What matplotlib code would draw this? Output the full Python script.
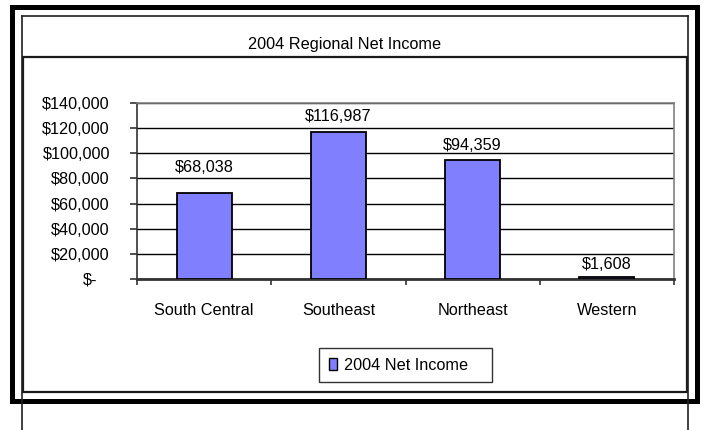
import numpy as np
import matplotlib
matplotlib.use("Agg")
import matplotlib.pyplot as plt
from matplotlib.patches import Rectangle, Patch
from matplotlib.lines import Line2D
from matplotlib.transforms import ScaledTranslation

plt.rcParams['font.family'] = ['Liberation Sans', 'DejaVu Sans']

# data
regions = ['South Central', 'Southeast', 'Northeast', 'Western']
net_income = [68038, 116987, 94359, 1608]
series_name = '2004 Net Income'
chart_title = '2004 Regional Net Income'
y_ticks = [0, 20000, 40000, 60000, 80000, 100000, 120000, 140000]

# label gap above each bar (pixels), Excel placed them unevenly
label_gap = [18, 8, 7, 5]

W, H = 704, 430
DPI = 100
bar_color = '#8080FF'
fs = 11.7


def fx(x):
    return x / W


def fy(y):
    return 1 - y / H


fig = plt.figure(figsize=(W / DPI, H / DPI), dpi=DPI)
fig.patch.set_facecolor('white')

# plot area in pixel coordinates
left, right, top, bottom = 137, 674, 103, 279
ax = fig.add_axes([fx(left), fy(bottom), fx(right - left), (bottom - top) / H])

x = np.arange(len(regions))
bars = ax.bar(x, net_income, width=0.41, color=bar_color,
              edgecolor='black', linewidth=1.3, zorder=3)

ax.set_xlim(-0.5, len(regions) - 0.5)
ax.set_ylim(y_ticks[0], y_ticks[-1])
ax.set_yticks(y_ticks)
ax.set_yticklabels([f'${v:,.0f}' if v > 0 else '$-' for v in y_ticks], fontsize=fs)
ax.yaxis.grid(True, color='black', linewidth=1.0, zorder=1)
ax.set_axisbelow(True)

# category labels centred, tick marks between categories
ax.set_xticks(x)
ax.set_xticklabels(regions, fontsize=fs)
ax.set_xticks(np.arange(len(regions) + 1) - 0.5, minor=True)
ax.tick_params(axis='x', which='major', length=0, pad=17.5)
ax.tick_params(axis='x', which='minor', length=4, width=1.2, color='#333333',
               direction='out')
ax.tick_params(axis='y', length=5, width=1.2, color='#333333', pad=14.5)

# accounting style dash sits a bit left of the other labels
zero_lbl = ax.get_yticklabels()[0]
zero_lbl.set_transform(zero_lbl.get_transform() +
                       ScaledTranslation(-13 / DPI, 0, fig.dpi_scale_trans))

for s in ['top', 'right']:
    ax.spines[s].set_color('#808080')
    ax.spines[s].set_linewidth(1.2)
ax.spines['left'].set_color('#333333')
ax.spines['left'].set_linewidth(1.2)
ax.spines['bottom'].set_color('#333333')
ax.spines['bottom'].set_linewidth(2.0)

for b, v, g in zip(bars, net_income, label_gap):
    ax.annotate(f'${v:,.0f}', (b.get_x() + b.get_width() / 2, v),
                xytext=(0, g * 72 / DPI), textcoords='offset points',
                ha='center', va='bottom', fontsize=fs)

# title
fig.text(fx(345), fy(44), chart_title, ha='center', va='center', fontsize=fs)

# legend
handle = Patch(facecolor=bar_color, edgecolor='black', linewidth=1.0)
leg = fig.legend([handle], [series_name + '   '], loc='center',
                 bbox_to_anchor=(fx(405.5), fy(365)), fontsize=fs,
                 frameon=True, fancybox=False, shadow=False,
                 handlelength=0.5, handleheight=0.75, handletextpad=0.45,
                 borderpad=0.6, borderaxespad=0)
leg.get_frame().set_edgecolor('black')
leg.get_frame().set_linewidth(1.0)

# chart area borders (Excel style frames)
lw1 = 1.2 * 72 / DPI * 1.4
fig.add_artist(Line2D([fx(21.5), fx(21.5)], [fy(15.5), fy(430)], color='#222222', lw=lw1))
fig.add_artist(Line2D([fx(687.5), fx(687.5)], [fy(15.5), fy(430)], color='#222222', lw=lw1))
fig.add_artist(Line2D([fx(21.5), fx(687.5)], [fy(15.5), fy(15.5)], color='#222222', lw=lw1))
fig.add_artist(Rectangle((fx(22.5), fy(392)), fx(687 - 22.5), (392 - 56.5) / H,
                         fill=False, edgecolor='#1a1a1a', linewidth=1.6,
                         transform=fig.transFigure))
fig.add_artist(Rectangle((fx(11.5), fy(400.5)), fx(696.5 - 11.5), (400.5 - 6.5) / H,
                         fill=False, edgecolor='black', linewidth=5 * 72 / DPI,
                         joinstyle='miter', transform=fig.transFigure))

fig.savefig('out.png', dpi=DPI)
